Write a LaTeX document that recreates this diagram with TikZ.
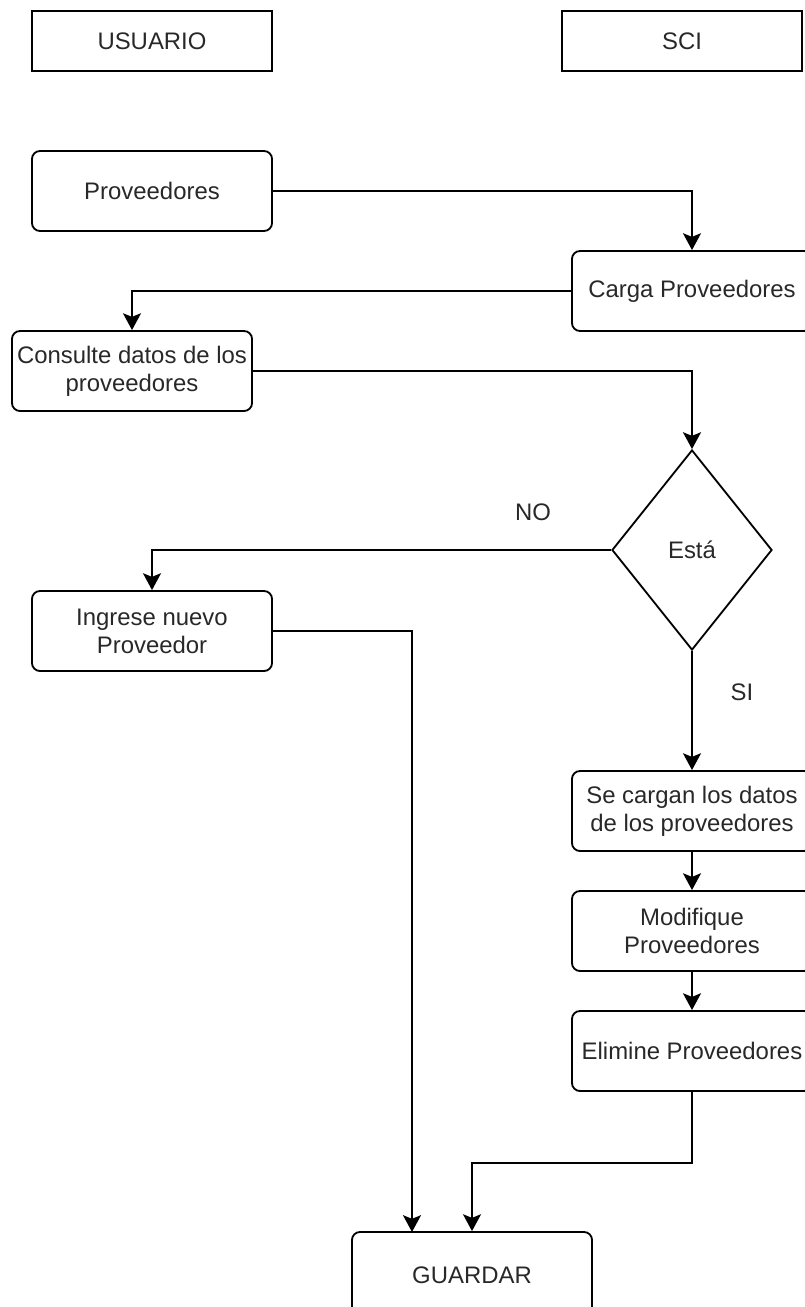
\documentclass[tikz,border=0pt]{standalone}
\usepackage{fontspec}
\setmainfont{Liberation Sans}
\usepackage{tikz}
\usetikzlibrary{arrows.meta,calc,positioning,shapes.geometric}
\definecolor{textgray}{RGB}{40,40,40}

\tikzset{
  lane/.style={draw,minimum width=6cm,minimum height=1.5cm,inner sep=0pt},
  stepbox/.style={draw,rounded corners=0.2cm,minimum width=6cm,minimum height=2cm,
    inner sep=0pt,align=center},
  choice/.style={draw,diamond,minimum width=4cm,minimum height=5cm,inner sep=0pt},
  flow/.style={-{Stealth[length=4.2mm,width=4.5mm,inset=0.9mm]}},
}

\begin{document}
\begin{tikzpicture}[x=0.025cm,y=-0.025cm,line width=1.3pt,
    font=\fontsize{17}{20}\selectfont,text=textgray]
  \useasboundingbox (0,0) rectangle (804,1307);
  % columns
  \node[lane] (usuario) at (152,41) {USUARIO};
  \node[lane] (sci) at (682,41) {SCI};
  % steps
  \node[stepbox] (prov) at (152,191) {Proveedores};
  \node[stepbox] (carga) at (692,291) {Carga Proveedores};
  \node[stepbox] (consulte) at (132,371) {Consulte datos de los\\proveedores};
  \node[choice] (esta) at (692,550) {Está};
  \node[stepbox] (ingrese) at (152,631) {Ingrese nuevo\\Proveedor};
  \node[stepbox] (cargan) at (692,811) {Se cargan los datos\\de los proveedores};
  \node[stepbox] (modif) at (692,931) {Modifique\\Proveedores};
  \node[stepbox] (elim) at (692,1051) {Elimine Proveedores};
  \node[stepbox,minimum height=2.15cm] (guardar) at (472,1275) {GUARDAR};
  \node (no) at (533,512) {NO};
  \node (si) at (742,692) {SI};
  \coordinate (gleft) at (412,1232);

  \draw[flow] (prov.east) -| (carga.north);
  \draw[flow] (carga.west) -| (consulte.north);
  \draw[flow] (consulte.east) -| (esta.north);
  \draw[flow] (esta.west) -| (ingrese.north);
  \draw[flow] (esta.south) -- (cargan.north);
  \draw[flow] (cargan.south) -- (modif.north);
  \draw[flow] (modif.south) -- (elim.north);
  \draw[flow] (ingrese.east) -| (gleft);
  \draw[flow] (elim.south) -- ++(0,71) -| (guardar.north);
\end{tikzpicture}
\end{document}
